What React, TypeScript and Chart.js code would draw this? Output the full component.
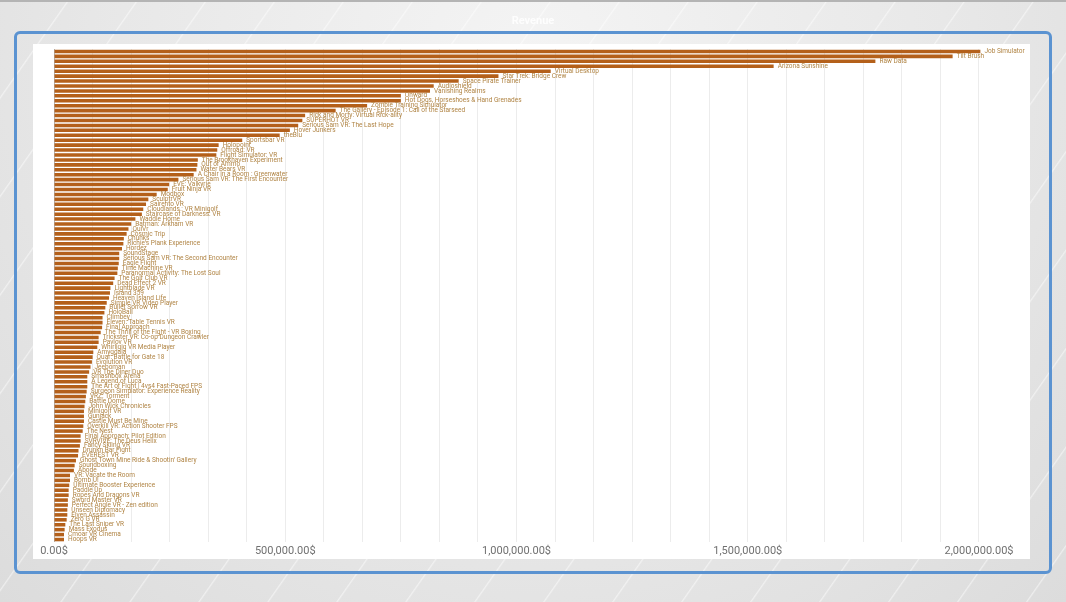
import React, { useEffect, useRef } from "react";
import { Chart, registerables } from "chart.js";

Chart.register(...registerables);

const games: string[] = [
  "Job Simulator",
  "Tilt Brush",
  "Raw Data",
  "Arizona Sunshine",
  "Virtual Desktop",
  "Star Trek: Bridge Crew",
  "Space Pirate Trainer",
  "Audioshield",
  "Vanishing Realms",
  "Onward",
  "Hot Dogs, Horseshoes & Hand Grenades",
  "Zombie Training Simulator",
  "The Gallery - Episode 1: Call of the Starseed",
  "Rick and Morty: Virtual Rick-ality",
  "SUPERHOT VR",
  "Serious Sam VR: The Last Hope",
  "Hover Junkers",
  "theBlu",
  "Sportsbar VR",
  "Holopoint",
  "Offroad: VR",
  "Flight Simulator: VR",
  "The Brookhaven Experiment",
  "Out of Ammo",
  "Water Bears VR",
  "A Chair in a Room : Greenwater",
  "Serious Sam VR: The First Encounter",
  "EVE: Valkyrie",
  "Fruit Ninja VR",
  "Modbox",
  "SculptrVR",
  "Sairento VR",
  "Cloudlands : VR Minigolf",
  "Staircase of Darkness: VR",
  "Waddle Home",
  "Batman: Arkham VR",
  "QuiVr",
  "Cosmic Trip",
  "Chunks",
  "Richie's Plank Experience",
  "Hordez",
  "SoundStage",
  "Serious Sam VR: The Second Encounter",
  "Eagle Flight",
  "Time Machine VR",
  "Paranormal Activity: The Lost Soul",
  "The Golf Club VR",
  "Dead Effect 2 VR",
  "Lightblade VR",
  "Island 359",
  "Heaven Island Life",
  "Simple VR Video Player",
  "Bullet Sorrow VR",
  "HoloBall",
  "Climbey",
  "Eleven: Table Tennis VR",
  "Final Approach",
  "The Thrill of the Fight - VR Boxing",
  "Trickster VR: Co-op Dungeon Crawler",
  "Pavlov VR",
  "Whirligig VR Media Player",
  "Amygdala",
  "Quar: Battle for Gate 18",
  "Evolution VR",
  "Jeeboman",
  "VR The Diner Duo",
  "Smashbox Arena",
  "A Legend of Luca",
  "The Art of Fight | 4vs4 Fast-Paced FPS",
  "Surgeon Simulator: Experience Reality",
  "VRZ: Torment",
  "Battle Dome",
  "John Wick Chronicles",
  "Minigolf VR",
  "Gunjack",
  "Castle Must Be Mine",
  "Overkill VR: Action Shooter FPS",
  "The Nest",
  "Final Approach: Pilot Edition",
  "SVRVIVE: The Deus Helix",
  "Fancy Skiing VR",
  "Drunkn Bar Fight",
  "EVEREST VR",
  "Ghost Town Mine Ride & Shootin' Gallery",
  "Soundboxing",
  "Abode",
  "VR: Vacate the Room",
  "Bomb U!",
  "Ultimate Booster Experience",
  "Paddle Up",
  "Ropes And Dragons VR",
  "Sword Master VR",
  "Perfect Angle VR - Zen edition",
  "Unseen Diplomacy",
  "Elven Assassin",
  "Zero G VR",
  "The Last Sniper VR",
  "Mass Exodus",
  "Cmoar VR Cinema",
  "Hoops VR",
];

const revenue: number[] = [
  2003000, 1943000, 1776000, 1556000, 1074000, 961000, 875000, 821000, 813000, 750000,
  750000, 677000, 609000, 543000, 537000, 528000, 510000, 488000, 407000, 356000,
  353000, 351000, 311000, 310000, 308000, 302000, 269000, 249000, 246000, 222000,
  204000, 199000, 193000, 190000, 176000, 167000, 161000, 157000, 151000, 150000,
  147000, 141000, 141000, 140000, 138000, 137000, 131000, 128000, 122000, 121000,
  119000, 114000, 111000, 109000, 105000, 105000, 104000, 101000, 96500, 96500,
  93600, 85000, 83500, 82000, 79000, 76000, 72000, 72000, 72000, 70600,
  69000, 67700, 66000, 64800, 64800, 64800, 63400, 62000, 57600, 57600,
  56000, 53000, 52000, 47500, 44600, 43000, 34600, 34600, 33000, 31700,
  31700, 30000, 30000, 28800, 28800, 27400, 24500, 23000, 21600, 21600,
];

const majorTicks: number[] = [0, 500000, 1000000, 1500000, 2000000];
const minorPerMajor = 6;
const axisMax = 2013000;
const chartTitle = "Revenue";

const fmt = (v: number) =>
  v.toLocaleString("en-US", { minimumFractionDigits: 2, maximumFractionDigits: 2 }) + "$";

export default function App() {
  const canvasRef = useRef<HTMLCanvasElement | null>(null);

  useEffect(() => {
    if (!canvasRef.current) return;
    const gridValues: number[] = [];
    for (let m = 0; m < majorTicks.length; m++) {
      gridValues.push(majorTicks[m]);
      if (m < majorTicks.length - 1) {
        const step = (majorTicks[m + 1] - majorTicks[m]) / minorPerMajor;
        for (let k = 1; k < minorPerMajor; k++) gridValues.push(majorTicks[m] + step * k);
      }
    }

    const labelPlugin = {
      id: "barLabels",
      afterDatasetsDraw(chart: any) {
        const ctx = chart.ctx;
        const meta = chart.getDatasetMeta(0);
        ctx.save();
        ctx.font = "6.5px Roboto";
        ctx.fillStyle = "#b08444";
        ctx.textBaseline = "middle";
        ctx.textAlign = "left";
        meta.data.forEach((bar: any, i: number) => {
          ctx.fillText(games[i], bar.x + 4, bar.y);
        });
        ctx.restore();
      },
    };

    const chart = new Chart(canvasRef.current, {
      type: "bar",
      data: {
        labels: games,
        datasets: [
          {
            data: revenue,
            backgroundColor: "#b4601a",
            borderWidth: 0,
            barPercentage: 0.72,
            categoryPercentage: 1,
          },
        ],
      },
      options: {
        indexAxis: "y",
        responsive: false,
        animation: false,
        devicePixelRatio: 1,
        layout: { padding: { left: 21, right: 45, top: 5, bottom: 1 } },
        plugins: {
          legend: { display: false },
          tooltip: { enabled: false },
          title: { display: false },
        },
        scales: {
          y: {
            type: "category",
            display: false,
          },
          x: {
            type: "linear",
            min: 0,
            max: axisMax,
            border: { display: false },
            grid: {
              drawTicks: false,
              color: (c: any) => (c.tick && c.tick.value === 0 ? "#b5b5b5" : "#ececec"),
              lineWidth: 1,
            },
            afterBuildTicks: (scale: any) => {
              scale.ticks = gridValues.map((v) => ({ value: v }));
            },
            afterFit: (scale: any) => {
              scale.height = 16;
            },
            ticks: {
              autoSkip: false,
              maxRotation: 0,
              padding: 3,
              color: "#707070",
              font: { family: "Roboto", size: 11 },
              callback: (value: any) => {
                const v = Number(value);
                return majorTicks.some((m) => Math.abs(m - v) < 1) ? fmt(v) : "";
              },
            },
          },
        },
      },
      plugins: [labelPlugin],
    });
    return () => chart.destroy();
  }, []);

  return (
    <div
      style={{
        position: "fixed",
        left: 0,
        top: 0,
        width: 1066,
        height: 602,
        overflow: "hidden",
        background:
          "repeating-linear-gradient(125deg, rgba(255,255,255,0) 0px, rgba(255,255,255,0) 54px, rgba(255,255,255,0.5) 55px, rgba(255,255,255,0) 56.5px), radial-gradient(ellipse at 50% 10%, #f4f4f4 0%, #e8e8e8 55%, #dcdcdc 100%)",
        borderTop: "2px solid #b4b4b4",
        boxSizing: "border-box",
        fontFamily: "Roboto, sans-serif",
      }}
    >
      <div
        style={{
          position: "absolute",
          left: 0,
          width: 1066,
          top: 12,
          textAlign: "center",
          color: "rgba(255,255,255,0.85)",
          fontSize: 11,
          fontWeight: 700,
        }}
      >
        {chartTitle}
      </div>
      <div
        style={{
          position: "absolute",
          left: 14,
          top: 29,
          width: 1038,
          height: 543,
          border: "3px solid #5b93d1",
          borderRadius: 6,
          boxSizing: "border-box",
        }}
      />
      <div
        style={{
          position: "absolute",
          left: 33,
          top: 42,
          width: 997,
          height: 515,
          background: "#ffffff",
        }}
      >
        <canvas ref={canvasRef} width={997} height={515} style={{ display: "block" }} />
      </div>
    </div>
  );
}
